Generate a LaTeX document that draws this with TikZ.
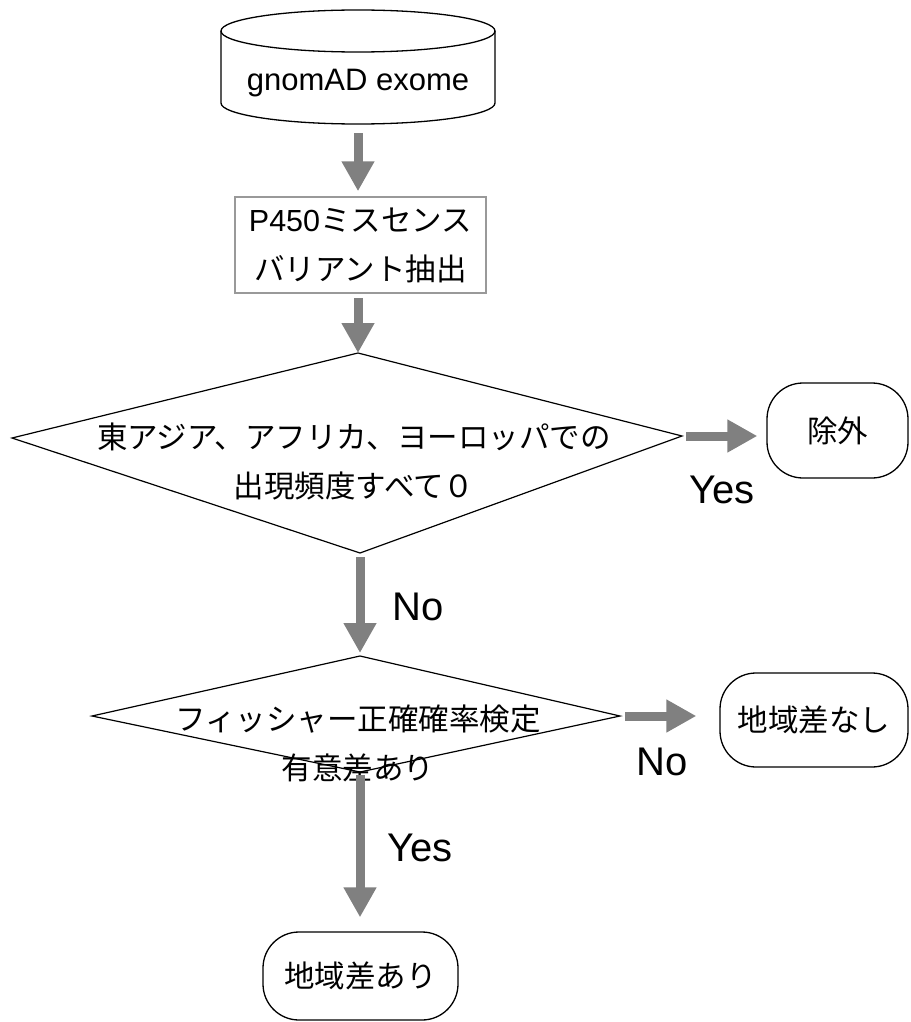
\documentclass[tikz,border=0pt]{standalone}
\usepackage{fontspec}
\setmainfont{Liberation Sans}
\newfontfamily\lat{Liberation Sans}
\newfontfamily\jp{Noto Sans CJK JP}
\usetikzlibrary{arrows.meta}
\definecolor{arrowgray}{HTML}{808080}
\definecolor{boxgray}{HTML}{999999}
\tikzset{
  flow/.style={draw=arrowgray, line width=9pt, -{Triangle[length=30pt,width=31pt]}},
  outline/.style={draw=black, line width=1.3pt},
  term/.style={outline, rounded corners=36pt, inner sep=0pt, font=\jp\fontsize{30.5}{36}\selectfont},
  jptext/.style={font=\jp\fontsize{30.5}{49}\selectfont, align=center, inner sep=0pt},
  lab/.style={font=\lat\fontsize{40}{40}\selectfont, inner sep=0pt}
}
\begin{document}
\begin{tikzpicture}[x=1pt, y=-1pt]
  \useasboundingbox (0,0) rectangle (910,1022);

  % database cylinder
  \node[minimum width=274pt, minimum height=116pt, inner sep=0pt] (db) at (358,66) {};
  \draw[outline] (221,31) -- (221,103) arc[start angle=180, end angle=360, x radius=137pt, y radius=21pt] -- (495,31);
  \draw[outline] (358,31) ellipse [x radius=137pt, y radius=21pt];
  \node[font=\lat\fontsize{31}{31}\selectfont, inner sep=0pt] (dbt) at (358,83) {gnomAD exome};

  % extraction step
  \node[draw=boxgray, line width=1.5pt, minimum width=251pt, minimum height=96pt, jptext] (ext) at (360.5,245)
    {{\lat P450}ミスセンス\\バリアント抽出};

  % first decision
  \coordinate (d1t) at (358,353);
  \coordinate (d1r) at (682,436);
  \coordinate (d1b) at (360,553);
  \coordinate (d1l) at (12,438);
  \draw[outline, line width=1.2pt] (d1t) -- (d1r) -- (d1b) -- (d1l) -- cycle;
  \node[jptext] (q1) at (354,462) {東アジア、アフリカ、ヨーロッパでの\\出現頻度すべて０};

  % second decision
  \coordinate (d2t) at (360,656);
  \coordinate (d2r) at (620,716);
  \coordinate (d2b) at (360,772);
  \coordinate (d2l) at (92,716);
  \draw[outline, line width=1.2pt] (d2t) -- (d2r) -- (d2b) -- (d2l) -- cycle;
  \node[jptext] (q2) at (358,743) {フィッシャー正確確率検定\\有意差あり};

  % terminals
  \node[term, minimum width=141pt, minimum height=95pt] (ex) at (837.5,430.5) {除外};
  \node[term, minimum width=188pt, minimum height=94pt] (nd) at (814,720) {地域差なし};
  \node[term, minimum width=195pt, minimum height=88pt] (ar) at (360.5,976) {地域差あり};

  % connectors
  \draw[flow, shorten <=9pt, shorten >=5pt] (db.south) -- (db.south |- ext.north);
  \draw[flow, shorten <=4pt] (d1t |- ext.south) -- (d1t);
  \draw[flow, shorten <=4pt, shorten >=3pt] (d1b) -- (d2t);
  \draw[flow, shorten <=4pt, shorten >=9pt] (d1r) -- (d1r -| ex.west);
  \draw[flow, shorten <=5pt, shorten >=23pt] (d2r) -- (d2r -| nd.west);
  \draw[flow, shorten <=3pt, shorten >=14pt] (d2b) -- (d2b |- ar.north);

  % branch labels
  \node[lab] (y1) at (722,490) {Yes};
  \node[lab] (n1) at (418,607) {No};
  \node[lab] (n2) at (662,762) {No};
  \node[lab] (y2) at (420,848) {Yes};
\end{tikzpicture}
\end{document}
